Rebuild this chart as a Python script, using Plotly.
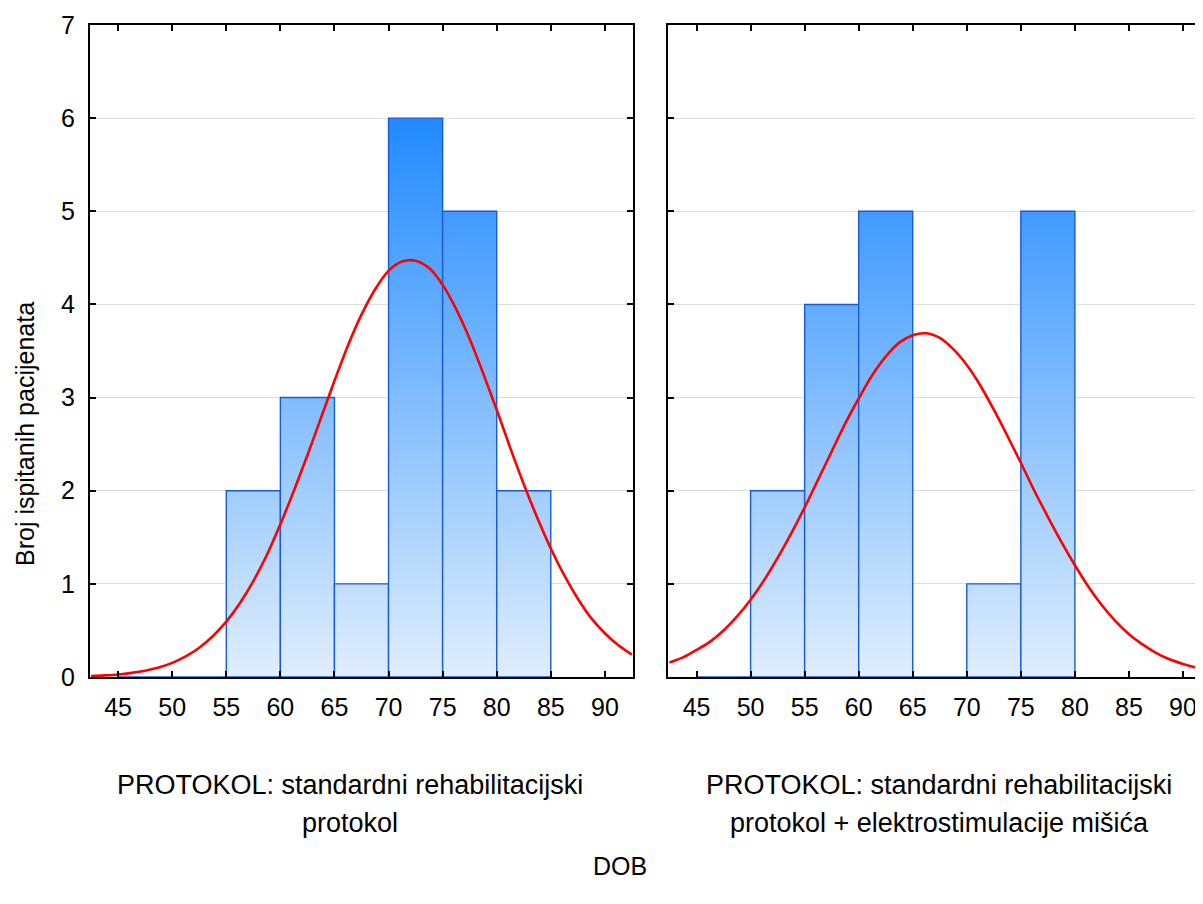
import plotly.graph_objects as go

# ---- data ----
bin_edges = [45, 50, 55, 60, 65, 70, 75, 80, 85]
counts_standard = [0, 0, 2, 3, 1, 6, 5, 2]
bin_edges_estim = [45, 50, 55, 60, 65, 70, 75, 80]
counts_estim = [0, 2, 4, 5, 0, 1, 5]

# fitted normal curves, values every 1.25 years
curve_x = [42.5, 43.75, 45, 46.25, 47.5, 48.75, 50, 51.25, 52.5, 53.75, 55, 56.25,
           57.5, 58.75, 60, 61.25, 62.5, 63.75, 65, 66.25, 67.5, 68.75, 70, 71.25,
           72.5, 73.75, 75, 76.25, 77.5, 78.75, 80, 81.25, 82.5, 83.75, 85, 86.25,
           87.5, 88.75, 90, 91.25, 92.5]
curve_std_y = [0.010, 0.017, 0.027, 0.044, 0.068, 0.102, 0.152, 0.221, 0.314, 0.437,
               0.594, 0.792, 1.03, 1.31, 1.64, 2.00, 2.38, 2.78, 3.18, 3.56, 3.89, 4.16,
               4.36, 4.46, 4.47, 4.39, 4.21, 3.95, 3.63, 3.26, 2.87, 2.46, 2.07, 1.71,
               1.38, 1.09, 0.84, 0.63, 0.47, 0.34, 0.24]
curve_est_y = [0.155, 0.21, 0.29, 0.38, 0.50, 0.65, 0.83, 1.04, 1.28, 1.54, 1.82, 2.12,
               2.42, 2.72, 2.99, 3.24, 3.44, 3.59, 3.67, 3.69, 3.64, 3.52, 3.35, 3.13,
               2.87, 2.59, 2.30, 2.00, 1.72, 1.45, 1.20, 0.97, 0.77, 0.60, 0.46, 0.35,
               0.26, 0.19, 0.14, 0.10, 0.07]

x_ticks = [45, 50, 55, 60, 65, 70, 75, 80, 85, 90]
y_ticks = [0, 1, 2, 3, 4, 5, 6, 7]

panel_labels = [
    ["PROTOKOL: standardni rehabilitacijski", "protokol"],
    ["PROTOKOL: standardni rehabilitacijski", "protokol + elektrostimulacije mišića"],
]
x_title = "DOB"
y_title = "Broj ispitanih pacijenata"

# ---- styling ----
FONT = "Liberation Sans, Arial, sans-serif"
BAR_LINE = "rgb(25,90,210)"
GRAD = [[0, "rgb(224,238,253)"], [1, "rgb(33,138,255)"]]

fig = go.Figure()


def add_hist(edges, counts, xa, ya):
    for i, c in enumerate(counts):
        l, r = edges[i], edges[i + 1]
        fig.add_trace(go.Scatter(
            x=[l, l, r, r, l], y=[0, c, c, 0, 0],
            mode="lines", fill="toself",
            fillgradient=dict(type="vertical", colorscale=GRAD, start=0, stop=6),
            line=dict(color=BAR_LINE, width=1.4),
            xaxis=xa, yaxis=ya, showlegend=False, hoverinfo="skip",
        ))


add_hist(bin_edges, counts_standard, "x", "y")
add_hist(bin_edges_estim, counts_estim, "x2", "y2")

fig.add_trace(go.Scatter(x=curve_x, y=curve_std_y, mode="lines",
                         line=dict(color="red", width=2.6, shape="spline"),
                         xaxis="x", yaxis="y", showlegend=False))
fig.add_trace(go.Scatter(x=curve_x, y=curve_est_y, mode="lines",
                         line=dict(color="red", width=2.6, shape="spline"),
                         xaxis="x2", yaxis="y2", showlegend=False))

OFF = 8  # default page body margin
L, R, T, B = 90 - OFF, 0, 25 - OFF, 227
W, H = 1203 - OFF, 904 - OFF
pw = W - L - R
ph = H - T - B

common_x = dict(range=[42.4, 92.6], tickvals=x_ticks, showline=True, linecolor="black",
                linewidth=2, ticks="inside", ticklen=6, tickwidth=2, tickcolor="black",
                showgrid=False, zeroline=False, ticklabelstandoff=7,
                tickfont=dict(family=FONT, size=25, color="black"))
common_y = dict(range=[0, 7], tickvals=y_ticks, showline=True, linecolor="black",
                linewidth=2, ticks="inside", ticklen=6, tickwidth=2, tickcolor="black",
                showgrid=True, gridcolor="rgb(222,222,222)", gridwidth=1, zeroline=False,
                tickfont=dict(family=FONT, size=25, color="black"))

fig.update_layout(
    width=W, height=H,
    margin=dict(l=L, r=R, t=T, b=B),
    paper_bgcolor="white", plot_bgcolor="white",
    xaxis=dict(common_x, domain=[0, 543 / pw], mirror="ticks", anchor="y"),
    xaxis2=dict(common_x, domain=[578 / pw, 1.0], mirror="ticks", anchor="y2",
                range=[42.36, 42.36 + 535 / 10.81]),
    yaxis=dict(common_y, mirror="ticks", anchor="x", ticklabelstandoff=8),
    yaxis2=dict(common_y, mirror=False, anchor="x2", showticklabels=False),
)


def px_to_paper(xp, yp):
    # xp, yp are page pixel positions in the reference
    return (xp - OFF - L) / pw, (H - B - (yp - OFF)) / ph


ann = []
for (cx, lines) in zip([350, 939], panel_labels):
    for k, txt in enumerate(lines):
        ax, ay = px_to_paper(cx, 785 + 38 * k)
        ann.append(dict(text=txt, x=ax, y=ay, xref="paper", yref="paper",
                        xanchor="center", yanchor="middle", showarrow=False,
                        font=dict(family=FONT, size=27, color="black")))
ax, ay = px_to_paper(620, 866)
ann.append(dict(text=x_title, x=ax, y=ay, xref="paper", yref="paper",
                xanchor="center", yanchor="middle", showarrow=False,
                font=dict(family=FONT, size=25, color="black")))
ax, ay = px_to_paper(25, 434)
ann.append(dict(text=y_title, x=ax, y=ay, xref="paper", yref="paper",
                xanchor="center", yanchor="middle", showarrow=False, textangle=-90,
                font=dict(family=FONT, size=25, color="black")))
fig.update_layout(annotations=ann)

fig.write_html("out.html")
